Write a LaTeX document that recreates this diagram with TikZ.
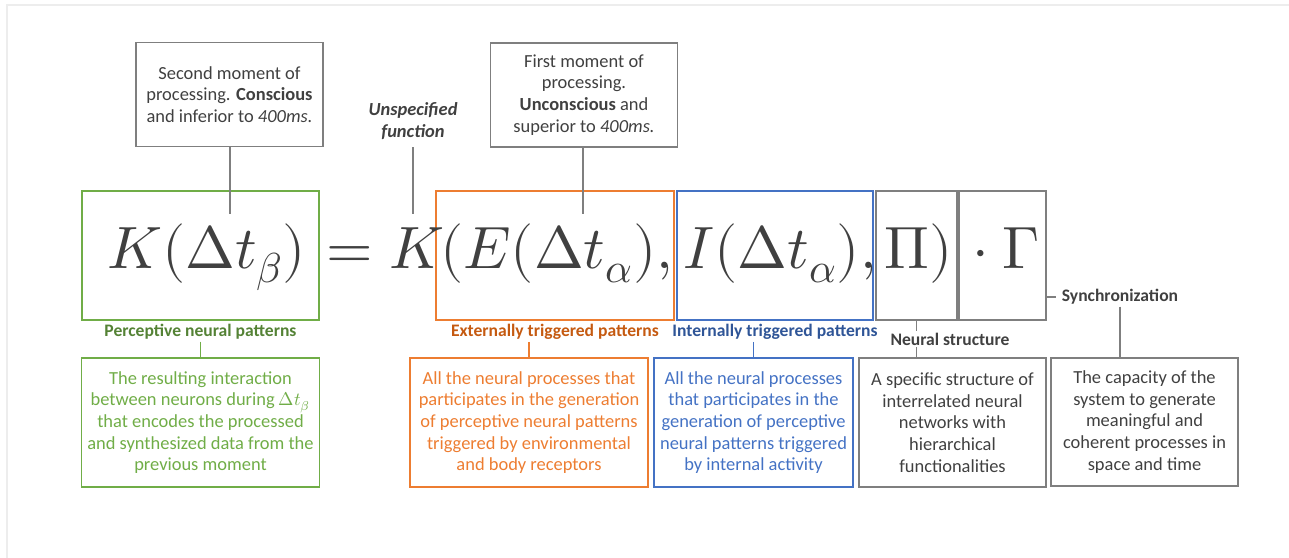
\documentclass[tikz,border=0pt]{standalone}
\usepackage{fontspec}
\usepackage{unicode-math}
\setmainfont{Carlito}
\setmathfont{Latin Modern Math}
\usepackage{xcolor}
\usetikzlibrary{positioning}

\definecolor{eqgreen}{HTML}{70AD47}
\definecolor{tagGreen}{HTML}{548235}
\definecolor{eqorange}{HTML}{ED7D31}
\definecolor{tagOrange}{HTML}{C55A11}
\definecolor{eqblue}{HTML}{4472C4}
\definecolor{tagBlue}{HTML}{2F5597}
\definecolor{boxgray}{HTML}{7F7F7F}
\definecolor{inkgray}{HTML}{404040}

\begin{document}
\begin{tikzpicture}[
    x=0.02cm, y=-0.02cm,
    note/.style={rectangle, draw=boxgray, thick, fill=white, align=center, minimum width=3.74cm, minimum height=2.08cm, text=inkgray, font=\fontsize{10.5}{12.4}\selectfont},
    termbox/.style={rectangle, draw=#1, thick, minimum height=2.58cm, inner sep=0pt},
    desc/.style={rectangle, draw=#1, thick, text=#1, align=center, minimum height=2.58cm, font=\fontsize{10.5}{12.3}\selectfont},
    tag/.style={text=#1, inner sep=1pt, font=\bfseries\fontsize{10}{12.4}\selectfont},
    term/.style={anchor=base west, inner sep=0pt, text=inkgray, font=\fontsize{34}{40}\selectfont},
    lead/.style={draw=boxgray, semithick}
]
    \useasboundingbox (0,0) rectangle (1289,558);
    \draw[black!7, line width=1.2pt] (7,558) |- (1289,5);

    % Boxes round the terms of the equation
    \node[termbox=eqgreen, minimum width=4.74cm] (EQK) at (200.5,255.5) {};
    \node[termbox=eqorange, minimum width=4.76cm] (EQE) at (555,255.5) {};
    \node[termbox=eqblue, minimum width=3.92cm] (EQI) at (775,255.5) {};
    \node[termbox=boxgray, minimum width=1.62cm] (EQPI) at (916.5,255.5) {};
    \node[termbox=boxgray, minimum width=1.74cm] (EQGA) at (1002.5,255.5) {};

    % The equation itself
    \node[term] (TK) at (107,268) {$K(\Delta t_{\beta})$};
    \node[term] (TEQ) at (326,268) {$= K$};
    \node[term] (TE) at (440,268) {$(E(\Delta t_{\alpha}),$};
    \node[term] (TI) at (683,268) {$I(\Delta t_{\alpha}),$};
    \node[term] (TPI) at (884,268) {$\Pi)$};
    \node[term] (TGA) at (972,268) {$\cdot\:\Gamma$};

    % Notes above
    \node[note] (SECOND) at (229.5,94.5) {Second moment of\\processing. \textbf{Conscious}\\and inferior to \textit{400ms.}};
    \node[note] (FIRST) at (584,95) {First moment of\\processing.\\\textbf{Unconscious} and\\superior to \textit{400ms.}};
    \node[tag=inkgray, align=center, font=\bfseries\itshape\fontsize{10.5}{12.4}\selectfont] (FUNC) at (413,121) {Unspecified\\function};
    \coordinate (KBETA) at (230,214);
    \coordinate (KFUNC) at (413,214);
    \coordinate (KALPHA) at (583,214);
    \draw[lead] (SECOND.south -| KBETA) -- (KBETA);
    \draw[lead] (KFUNC |- 0,147) -- (KFUNC);
    \draw[lead] (FIRST.south -| KALPHA) -- (KALPHA);

    % Names of the terms
    \node[tag=tagGreen] (TAGK) at (200.5,332) {Perceptive neural patterns};
    \node[tag=tagOrange] (TAGE) at (555,332) {Externally triggered patterns};
    \node[tag=tagBlue] (TAGI) at (775,332) {Internally triggered patterns};
    \node[tag=inkgray] (TAGPI) at (950,339) {Neural structure};
    \node[tag=inkgray] (TAGGA) at (1120,297) {Synchronization};

    % Descriptions
    \node[desc=eqgreen, minimum width=4.74cm] (DESCK) at (200.5,422.5) {The resulting interaction\\between neurons during $\Delta t_{\beta}$\\that encodes the processed\\and synthesized data from the\\previous moment};
    \node[desc=eqorange, minimum width=4.76cm] (DESCE) at (529,422.5) {All the neural processes that\\participates in the generation\\of perceptive neural patterns\\triggered by environmental\\and body receptors};
    \node[desc=eqblue, minimum width=3.98cm] (DESCI) at (753.5,422.5) {All the neural processes\\that participates in the\\generation of perceptive\\neural patterns triggered\\by internal activity};
    \node[desc=boxgray, text=inkgray, minimum width=3.74cm] (DESCPI) at (952.5,422.5) {A specific structure of\\interrelated neural\\networks with\\hierarchical\\functionalities};
    \node[desc=boxgray, text=inkgray, minimum width=3.74cm, minimum height=2.56cm] (DESCGA) at (1144.5,422) {The capacity of the\\system to generate\\meaningful and\\coherent processes in\\space and time};

    % Ticks from names to descriptions
    \draw[draw=eqgreen, semithick] (TAGK.south -| DESCK.north) -- (DESCK.north);
    \draw[draw=eqorange, semithick] (TAGE.south -| DESCE.north) -- (DESCE.north);
    \draw[draw=eqblue, semithick] (TAGI.south -| DESCI.north) -- (DESCI.north);
    \draw[lead] (EQPI.south) -- (EQPI.south |- TAGPI.north);
    \draw[lead] (TAGPI.south -| EQPI.south) -- (DESCPI.north -| EQPI.south);
    \draw[lead] (EQGA.east |- TAGGA.west) -- ++(9,0);
    \draw[lead] (TAGGA.south) -- (TAGGA.south |- DESCGA.north);
\end{tikzpicture}
\end{document}
